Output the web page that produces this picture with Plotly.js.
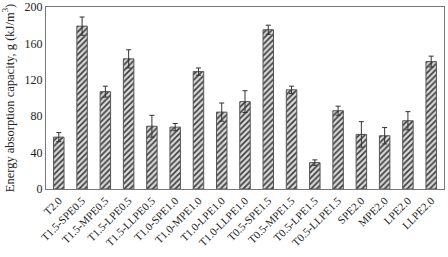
<!DOCTYPE html>
<html><head><meta charset="utf-8">
<script src="https://cdn.plot.ly/plotly-3.0.1.min.js"></script>
<style>html,body{margin:0;padding:0;background:#fff}#chart{width:448px;height:257px}</style>
</head><body><div id="chart"></div>
<script>
const categories = ["T2.0","T1.5-SPE0.5","T1.5-MPE0.5","T1.5-LPE0.5","T1.5-LLPE0.5","T1.0-SPE1.0","T1.0-MPE1.0","T1.0-LPE1.0","T1.0-LLPE1.0","T0.5-SPE1.5","T0.5-MPE1.5","T0.5-LPE1.5","T0.5-LLPE1.5","SPE2.0","MPE2.0","LPE2.0","LLPE2.0"];
const values = [57,179,107,143,69,68,129,84.5,96,175,109,29,86,60,58.5,75,140];
const errors = [5,10,6,10,12,4,4,10,12,5,4,3,5,14,9,10,6];
const yTicks = [0,40,80,120,160,200];

const trace = {
  type: 'bar', x: categories, y: values,
  width: 0.45,
  marker: {
    color: '#e0e0e0',
    line: {color: '#555', width: 1},
    pattern: {shape: '/', fgcolor: '#3a3a3a', bgcolor: '#d8d8d8', size: 4, solidity: 0.4}
  },
  error_y: {type: 'data', array: errors, visible: true, color: '#333', thickness: 1, width: 2.5}
};
const layout = {
  width: 448, height: 257,
  margin: {l: 46, r: 4, t: 7, b: 68},
  paper_bgcolor: '#fff', plot_bgcolor: '#fff',
  showlegend: false,
  font: {family: 'Liberation Serif, DejaVu Serif, serif', color: '#222', size: 11},
  xaxis: {
    showline: true, mirror: true, linecolor: '#777', linewidth: 1,
    tickangle: -45, tickfont: {size: 11}, ticks: '', showgrid: false,
    range: [-0.55, categories.length - 0.45]
  },
  yaxis: {
    range: [0, 200], tickmode: 'array', tickvals: yTicks, ticktext: yTicks.map(String),
    ticklabeloverflow: 'allow',
    showline: true, mirror: true, linecolor: '#777', linewidth: 1,
    ticks: '', showgrid: false, zeroline: false, tickfont: {size: 12},
    title: {text: 'Energy absorption capacity, g (kJ/m<sup>3</sup>)', font: {size: 12.5}, standoff: 7}
  }
};
Plotly.newPlot('chart', [trace], layout, {displayModeBar: false, staticPlot: true});
</script></body></html>
